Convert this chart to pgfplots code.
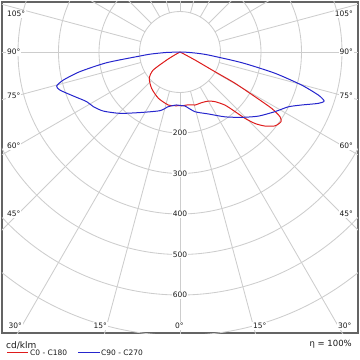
\documentclass[border=0pt]{standalone}
\usepackage{fontspec}
\setmainfont{DejaVu Sans}
\usepackage{pgfplots}
\pgfplotsset{compat=1.18}
\usepackage{pgfplotstable}

\definecolor{gridc}{RGB}{205,205,205}
\definecolor{framec}{RGB}{100,100,100}
\definecolor{redc}{RGB}{222,28,28}
\definecolor{bluec}{RGB}{38,38,205}
\definecolor{txtc}{RGB}{25,25,25}

% C0 - C180 : signed gamma (negative = C180 side), intensity cd/klm
\pgfplotstableread{
g I
-65 0
-61 12
-59 38
-56 80
-49.4 100
-37.9 114
-25.1 126
-12.4 134
-3.5 133
0 132
1.8 133
8.9 132
15.8 136
23.2 136
30.0 140
35.2 150
40.3 172
42.7 200
44.4 229
46.4 256
48.9 278
52.1 297
55.4 303
57.1 294
58.4 266
59.2 216
60.4 156
60.6 99
61.9 42
63 10
65 0
}\redtab

% C90 - C270
\pgfplotstableread{
g I
-90 0
-88 35
-86 72
-84.3 99
-81.7 183
-78.9 252
-76.5 296
-74.6 316
-72.4 311
-67.6 285
-62.0 261
-57.8 253
-52.4 239
-44.4 212
-33.4 179
-18.8 153
-12.1 138
-3.6 131
0 132
5.3 134
14.1 152
24.5 168
34.8 195
43.4 222
50.7 250
57.9 277
63.2 300
66.5 328
69.6 364
71.2 376
72.7 358
74.8 311
77.4 240
80.2 155
84.0 70
86 40
88 15
90 0
}\bluetab

\begin{document}
\begin{tikzpicture}[
  lab/.style={font=\fontsize{7.5}{9}\selectfont, fill=white, inner sep=0.8pt, text=txtc},
]
\begin{axis}[
  x=0.405pt, y=0.405pt,
  xmin=-439.5, xmax=439.5, ymin=-693.8, ymax=123.5,
  axis line style={framec, line width=1.3pt},
  xtick=\empty, ytick=\empty,
  clip=true,
]
\pgfplotsinvokeforeach{1,...,7}{
  \draw[gridc, line width=0.85pt] (axis cs:0,0) circle[radius=#1*40.5pt];
}
\pgfplotsinvokeforeach{0,15,...,345}{
  \draw[gridc, line width=0.85pt] (axis cs:0,0) ++(#1:40.5pt) -- ++(#1:600pt);
}
% ring labels
\node[lab] at (axis cs:0,-200) {200};
\node[lab] at (axis cs:0,-300) {300};
\node[lab] at (axis cs:0,-400) {400};
\node[lab] at (axis cs:0,-500) {500};
\node[lab] at (axis cs:0,-600) {600};
% angle labels left
\node[lab, anchor=west] at (axis cs:-429.6,93.8) {105°};
\node[lab, anchor=west] at (axis cs:-429.6,0) {90°};
\node[lab, anchor=west] at (axis cs:-429.6,-108.6) {75°};
\node[lab, anchor=west] at (axis cs:-429.6,-232) {60°};
\node[lab, anchor=west] at (axis cs:-429.6,-400) {45°};
% angle labels right
\node[lab, anchor=east] at (axis cs:429.6,93.8) {105°};
\node[lab, anchor=east] at (axis cs:429.6,0) {90°};
\node[lab, anchor=east] at (axis cs:429.6,-108.6) {75°};
\node[lab, anchor=east] at (axis cs:429.6,-232) {60°};
\node[lab, anchor=east] at (axis cs:429.6,-400) {45°};
% bottom angle labels
\node[lab, anchor=east] at (axis cs:-387.7,-676.5) {30°};
\node[lab, anchor=east] at (axis cs:-177.8,-676.5) {15°};
\node[lab] at (axis cs:-1.7,-676.5) {0°};
\node[lab, anchor=west] at (axis cs:177.8,-676.5) {15°};
\node[lab, anchor=west] at (axis cs:387.7,-676.5) {30°};

\addplot[redc, line width=1pt, data cs=polar, smooth, tension=0.4]
  table[x expr=\thisrow{g}-90, y=I]{\redtab};
\addplot[bluec, line width=1pt, data cs=polar, smooth, tension=0.4]
  table[x expr=\thisrow{g}-90, y=I]{\bluetab};
\end{axis}

\node[anchor=west, inner sep=0pt, text=txtc, font=\fontsize{9}{10}\selectfont]
  at ([xshift=4pt,yshift=-12pt]current axis.south west) {cd/klm};
\draw[draw=redc, line width=1pt] ([xshift=5pt,yshift=-20pt]current axis.south west) -- ++(21pt,0);
\node[anchor=west, inner sep=0pt, text=txtc, font=\fontsize{7.5}{9}\selectfont]
  at ([xshift=28pt,yshift=-20pt]current axis.south west) {C0 - C180};
\draw[draw=bluec, line width=1pt] ([xshift=76pt,yshift=-20pt]current axis.south west) -- ++(22pt,0);
\node[anchor=west, inner sep=0pt, text=txtc, font=\fontsize{7.5}{9}\selectfont]
  at ([xshift=99pt,yshift=-20pt]current axis.south west) {C90 - C270};
\node[anchor=east, inner sep=0pt, text=txtc, font=\fontsize{8.5}{10}\selectfont]
  at ([xshift=350pt,yshift=-11pt]current axis.south west) {η = 100\%};

\path ([xshift=-2pt,yshift=-27pt]current axis.south west) rectangle ([xshift=2pt,yshift=2pt]current axis.north east);
\end{tikzpicture}
\end{document}
